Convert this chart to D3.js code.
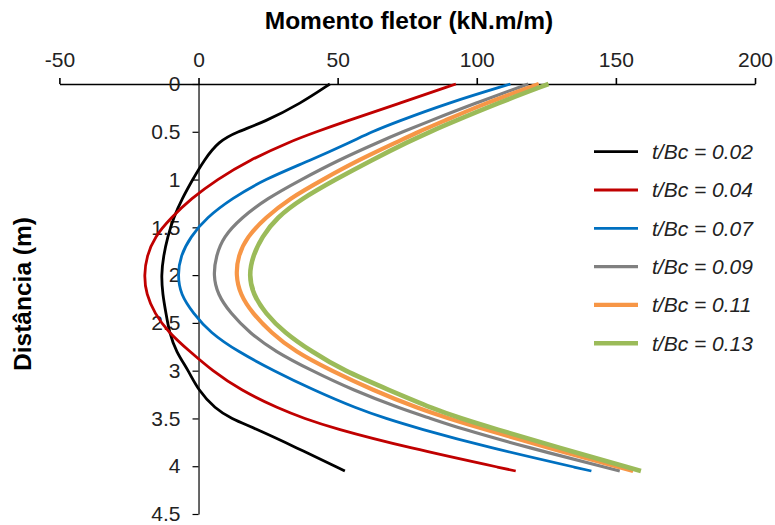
<!DOCTYPE html>
<html>
<head>
<meta charset="utf-8">
<script src="https://cdn.jsdelivr.net/npm/d3@7"></script>
<style>
  html, body { margin: 0; padding: 0; background: #fff; }
  svg { display: block; font-family: "Liberation Sans", Arial, sans-serif; }
</style>
</head>
<body>
<svg id="chart" width="775" height="525"></svg>
<script>
// ---- data ----
const depths = [0, 0.2, 0.4, 0.5, 0.6, 0.8, 1.0, 1.2, 1.4, 1.6, 1.8, 2.0, 2.2, 2.4, 2.6, 2.8, 3.0, 3.2, 3.4, 3.5, 3.6, 3.8, 4.05];
const m002 = [47.2, 36.9, 23.5, 13.9, 7.2, 1.9, -2.1, -5.9, -9.0, -11.1, -12.6, -13.4, -12.9, -11.7, -10.5, -8.1, -3.6, -0.2, 6.0, 11.7, 19.9, 34.8, 52.6];
const m004 = [92.5, 72.4, 52.0, 42.4, 33.1, 18.0, 6.6, -2.7, -9.9, -15.8, -18.6, -19.6, -18.8, -15.8, -10.8, -3.1, 4.9, 14.9, 29.0, 38.1, 48.2, 74.4, 114.0];
const m007 = [112.1, 89.5, 70.9, 62.3, 55.2, 40.1, 23.5, 11.9, 2.8, -2.9, -6.5, -7.5, -6.5, -1.9, 4.1, 14.1, 27.0, 41.1, 57.2, 67.3, 78.4, 103.6, 141.2];
const m009 = [118.5, 99.6, 82.0, 73.4, 65.3, 50.0, 36.9, 24.5, 15.4, 8.9, 6.3, 5.3, 6.8, 11.5, 18.2, 27.5, 40.7, 55.2, 72.9, 83.5, 93.5, 117.7, 151.4];
const m011 = [122.3, 103.1, 87.2, 79.1, 71.9, 57.2, 44.6, 32.6, 24.0, 17.4, 14.2, 13.4, 14.9, 19.4, 26.0, 34.6, 47.7, 62.3, 79.4, 90.0, 101.1, 124.8, 156.2];
const m013 = [125.8, 107.6, 91.1, 83.2, 75.7, 62.0, 49.2, 37.1, 28.0, 22.8, 19.5, 18.1, 19.6, 24.0, 30.8, 40.6, 52.2, 68.3, 84.5, 94.5, 105.6, 128.8, 159.0];
const seriesNames = ["t/Bc = 0.02", "t/Bc = 0.04", "t/Bc = 0.07", "t/Bc = 0.09", "t/Bc = 0.11", "t/Bc = 0.13"];
const xTicks = [-50, 0, 50, 100, 150, 200];
const yTicks = [0, 0.5, 1, 1.5, 2, 2.5, 3, 3.5, 4, 4.5];
const xTitle = "Momento fletor (kN.m/m)";
const yTitle = "Distância (m)";

// ---- styles ----
const colors = ["#000000", "#c00000", "#0070c0", "#808080", "#f79646", "#9bbb59"];
const widths = [2.8, 2.8, 2.8, 3.2, 4.2, 4.6];
const seriesValues = [m002, m004, m007, m009, m011, m013];

const svg = d3.select("#chart");
const x = d3.scaleLinear().domain([-50, 200]).range([59.4, 755]);
const y = d3.scaleLinear().domain([0, 4.5]).range([84, 514]);

// top axis
const gx = svg.append("g").attr("transform", `translate(0,${y(0)})`)
  .call(d3.axisTop(x).tickValues(xTicks).tickSize(6).tickSizeOuter(0).tickFormat(d => String(d)));
gx.select(".domain").attr("stroke", "#000").attr("stroke-width", 1.6);
gx.selectAll(".tick line").attr("stroke", "#000").attr("stroke-width", 1.6);
gx.selectAll(".tick text").attr("y", -17).attr("font-size", 21).attr("fill", "#222")
  .attr("font-family", "Liberation Sans, Arial, sans-serif");

// left axis at x=0
const gy = svg.append("g").attr("transform", `translate(${x(0)},0)`)
  .call(d3.axisLeft(y).tickValues(yTicks).tickSize(6).tickSizeOuter(0).tickFormat(d => String(d)));
gy.select(".domain").attr("stroke", "#000").attr("stroke-width", 1.2);
gy.selectAll(".tick line").attr("stroke", "#000").attr("stroke-width", 1.2);
gy.selectAll(".tick text").attr("x", -18).attr("font-size", 21).attr("fill", "#222")
  .attr("font-family", "Liberation Sans, Arial, sans-serif");

// lines
const line = d3.line()
  .x(p => x(p[1]))
  .y(p => y(p[0]))
  .curve(d3.curveBasis);

seriesValues.forEach((vals, i) => {
  const pts = depths.map((d, j) => [d, vals[j]]);
  svg.append("path")
    .datum(pts)
    .attr("fill", "none")
    .attr("stroke", colors[i])
    .attr("stroke-width", widths[i])
    .attr("d", line);
});

// titles
svg.append("text")
  .attr("x", 409).attr("y", 29)
  .attr("text-anchor", "middle")
  .attr("font-weight", "bold").attr("font-size", 24.5).attr("fill", "#000")
  .text(xTitle);

svg.append("text")
  .attr("transform", "translate(31,294) rotate(-90)")
  .attr("text-anchor", "middle")
  .attr("font-weight", "bold").attr("font-size", 24.5).attr("fill", "#000")
  .text(yTitle);

// legend
const legend = svg.append("g");
seriesNames.forEach((name, i) => {
  const yy = 151.7 + i * 38.3;
  legend.append("line")
    .attr("x1", 594).attr("x2", 638)
    .attr("y1", yy).attr("y2", yy)
    .attr("stroke", colors[i]).attr("stroke-width", widths[i]);
  legend.append("text")
    .attr("x", 652).attr("y", yy)
    .attr("dy", "0.35em")
    .attr("font-style", "italic").attr("font-size", 21).attr("fill", "#222")
    .text(name);
});
</script>
</body>
</html>
